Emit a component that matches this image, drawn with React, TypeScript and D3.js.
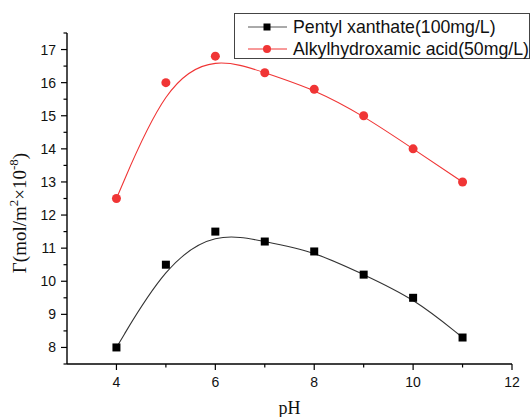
import { useEffect, useRef } from 'react'
import * as d3 from 'd3'

const PH = [4, 5, 6, 7, 8, 9, 10, 11]
const XANTHATE = [8.0, 10.5, 11.5, 11.2, 10.9, 10.2, 9.5, 8.3]
const HYDROXAMIC = [12.5, 16.0, 16.8, 16.3, 15.8, 15.0, 14.0, 13.0]
const X_TICKS = [4, 6, 8, 10, 12]
const X_MINOR = [5, 7, 9, 11]
const Y_TICKS = [8, 9, 10, 11, 12, 13, 14, 15, 16, 17]
const Y_MINOR = [7.5, 8.5, 9.5, 10.5, 11.5, 12.5, 13.5, 14.5, 15.5, 16.5, 17.5]
const LEGEND = ['Pentyl xanthate(100mg/L)', 'Alkylhydroxamic acid(50mg/L)']

const W = 531
const H = 417
const RED = '#f03535'
const SANS = '"Liberation Sans", Arial, sans-serif'
const SERIF = '"Liberation Serif", "Times New Roman", serif'

export default function App() {
  const ref = useRef<SVGSVGElement>(null)

  useEffect(() => {
    if (!ref.current) return
    const svg = d3.select(ref.current)
    svg.selectAll('*').remove()

    const x = d3.scaleLinear().domain([3, 12]).range([67, 512])
    const y = d3.scaleLinear().domain([7.5, 17.5]).range([364, 33])

    // axes
    const ax = svg.append('g').attr('transform', `translate(0,${y(7.5)})`)
    ax.append('line').attr('x1', x(3)).attr('x2', x(12)).attr('stroke', '#000').attr('stroke-width', 1.4)
    X_TICKS.forEach((t) => {
      ax.append('line').attr('x1', x(t)).attr('x2', x(t)).attr('y2', 6).attr('stroke', '#000').attr('stroke-width', 1.2)
      ax.append('text')
        .attr('x', x(t))
        .attr('y', 23)
        .attr('text-anchor', 'middle')
        .attr('font-family', SANS)
        .attr('font-size', 14)
        .attr('fill', '#111')
        .text(t)
    })
    X_MINOR.forEach((t) => {
      ax.append('line').attr('x1', x(t)).attr('x2', x(t)).attr('y2', 3.5).attr('stroke', '#000').attr('stroke-width', 1.2)
    })

    const ay = svg.append('g').attr('transform', `translate(${x(3)},0)`)
    ay.append('line').attr('y1', y(7.5)).attr('y2', y(17.5)).attr('stroke', '#000').attr('stroke-width', 1.4)
    Y_TICKS.forEach((t) => {
      ay.append('line').attr('y1', y(t)).attr('y2', y(t)).attr('x2', -6).attr('stroke', '#000').attr('stroke-width', 1.2)
      ay.append('text')
        .attr('x', -11)
        .attr('y', y(t))
        .attr('dy', '0.36em')
        .attr('text-anchor', 'end')
        .attr('font-family', SANS)
        .attr('font-size', 14)
        .attr('fill', '#111')
        .text(t)
    })
    Y_MINOR.forEach((t) => {
      ay.append('line').attr('y1', y(t)).attr('y2', y(t)).attr('x2', -3.5).attr('stroke', '#000').attr('stroke-width', 1.2)
    })

    // axis titles
    svg.append('text')
      .attr('x', x(7.5))
      .attr('y', 414)
      .attr('text-anchor', 'middle')
      .attr('font-family', SERIF)
      .attr('font-size', 18)
      .attr('fill', '#111')
      .text('pH')

    const yl = svg.append('text')
      .attr('transform', 'translate(26,213) rotate(-90)')
      .attr('text-anchor', 'middle')
      .attr('font-family', SERIF)
      .attr('font-size', 19)
      .attr('fill', '#111')
    yl.append('tspan').text('Γ(mol/m')
    yl.append('tspan').attr('font-size', 13).attr('dy', -8).text('2')
    yl.append('tspan').attr('dy', 8).text('×10')
    yl.append('tspan').attr('font-size', 13).attr('dy', -8).text('-8')
    yl.append('tspan').attr('dy', 8).text(')')

    // curves
    const line = d3
      .line<number>()
      .x((_, i) => x(PH[i]))
      .y((d) => y(d))
      .curve(d3.curveBasis)

    svg.append('path').attr('d', line(XANTHATE)).attr('fill', 'none').attr('stroke', '#333').attr('stroke-width', 1.1)
    svg.append('path').attr('d', line(HYDROXAMIC)).attr('fill', 'none').attr('stroke', RED).attr('stroke-width', 1.1)

    svg.append('g')
      .selectAll('rect')
      .data(XANTHATE)
      .join('rect')
      .attr('x', (_, i) => x(PH[i]) - 4)
      .attr('y', (d) => y(d) - 4)
      .attr('width', 8)
      .attr('height', 8)
      .attr('fill', '#000')

    svg.append('g')
      .selectAll('circle')
      .data(HYDROXAMIC)
      .join('circle')
      .attr('cx', (_, i) => x(PH[i]))
      .attr('cy', (d) => y(d))
      .attr('r', 4.5)
      .attr('fill', RED)

    // legend
    const lg = svg.append('g')
    lg.append('rect')
      .attr('x', 234.5)
      .attr('y', 13.5)
      .attr('width', 295)
      .attr('height', 45)
      .attr('fill', '#fff')
      .attr('stroke', '#444')
      .attr('stroke-width', 1)
    LEGEND.forEach((label, i) => {
      const ly = 27 + i * 22
      lg.append('line')
        .attr('x1', 248)
        .attr('x2', 287)
        .attr('y1', ly)
        .attr('y2', ly)
        .attr('stroke', i === 0 ? '#555' : RED)
        .attr('stroke-width', 1)
      if (i === 0) {
        lg.append('rect').attr('x', 263.5).attr('y', ly - 3.5).attr('width', 7).attr('height', 7).attr('fill', '#000')
      } else {
        lg.append('circle').attr('cx', 267).attr('cy', ly).attr('r', 4).attr('fill', RED)
      }
      lg.append('text')
        .attr('x', 293)
        .attr('y', ly)
        .attr('dy', '0.36em')
        .attr('font-family', SANS)
        .attr('font-size', 17.7)
        .attr('fill', '#111')
        .text(label)
    })
  }, [])

  return (
    <div style={{ position: 'absolute', left: 0, top: 0, width: W, height: H, background: '#fff' }}>
      <svg ref={ref} width={W} height={H} />
    </div>
  )
}
